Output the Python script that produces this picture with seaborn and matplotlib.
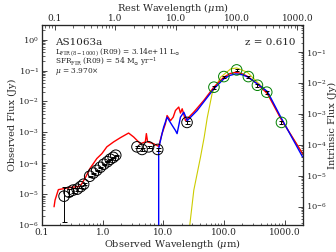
import numpy as np
import seaborn as sns
import matplotlib
matplotlib.use("Agg")
import matplotlib.pyplot as plt
from matplotlib.ticker import FixedLocator, FuncFormatter, LogLocator, NullFormatter

# source info
z = 0.610
mu = 3.970

# observed photometry (black circles), micron / Jy
phot_wave = [0.231, 0.279, 0.325, 0.379, 0.433, 0.485, 0.61, 0.70, 0.796, 0.91,
             1.04, 1.19, 1.33, 1.49, 1.64, 3.67, 4.45, 5.7, 8.06, 24.5]
phot_flux = [8.6e-6, 1.16e-5, 1.35e-5, 1.45e-5, 1.75e-5, 2.1e-5, 3.8e-5, 4.8e-5, 5.9e-5, 7.4e-5,
             9.3e-5, 1.12e-4, 1.35e-4, 1.55e-4, 1.82e-4, 3.4e-4, 2.8e-4, 3.4e-4, 2.8e-4, 2.1e-3]
phot_err_lo = [7.35e-6, 3.0e-6, 2.5e-6, 1.5e-6, 1.5e-6, 1.5e-6, 2e-6, 2e-6, 2e-6, 3e-6,
               4e-6, 4e-6, 5e-6, 5e-6, 6e-6, 3e-5, 3e-5, 3e-5, 3e-5, 2e-4]
phot_err_hi = [8.4e-6, 3.0e-6, 2.5e-6, 1.5e-6, 1.5e-6, 1.5e-6, 2e-6, 2e-6, 2e-6, 3e-6,
               4e-6, 4e-6, 5e-6, 5e-6, 6e-6, 3e-5, 3e-5, 3e-5, 3e-5, 2e-4]

# far-IR photometry (green circles)
fir_wave = [68, 99, 161, 251, 354, 504, 881]
fir_flux = [0.029, 0.064, 0.105, 0.064, 0.0335, 0.020, 2.1e-3]
fir_err = [0.003, 0.005, 0.008, 0.005, 0.003, 0.002, 3e-4]

# full template fit (red)
red_wave = [0.158, 0.164, 0.186, 0.225, 0.29, 0.425, 0.514, 0.621, 0.80, 0.97,
            1.17, 1.51, 1.95, 2.67, 3.23, 4.17, 5.04, 5.24, 5.5, 6.9,
            8.36, 9.5, 10.8, 11.5, 13.1, 14.5, 15.8, 17.9, 19.1, 20.4,
            23.1, 31.6, 46.3, 67.7, 99, 125, 155, 195, 242, 354,
            517, 859, 1963]
red_flux = [3.9e-6, 6.4e-6, 1.4e-5, 1.5e-5, 1.64e-5, 1.8e-5, 3.3e-5, 6.9e-5, 1.42e-4, 2.05e-4,
            3.4e-4, 4.9e-4, 6.7e-4, 9.5e-4, 7.1e-4, 4.3e-4, 4.9e-4, 9.1e-4, 4.9e-4, 4.3e-4,
            3.5e-4, 9.1e-4, 1.9e-3, 3.5e-3, 2.4e-3, 3.1e-3, 5.1e-3, 6.6e-3, 4.2e-3, 5.8e-3,
            2.4e-3, 4.5e-3, 0.0108, 0.029, 0.061, 0.080, 0.088, 0.080, 0.065, 0.037,
            0.0178, 2.8e-3, 2.05e-4]

# IR-only template (blue)
blue_wave = [8.36, 8.36, 9.5, 10.1, 11.5, 13.9, 15.8, 16.8, 19.1, 21.7,
             24.7, 36, 67.8, 99, 125, 155, 195, 242, 354, 517,
             859, 1963]
blue_flux = [1e-7, 3.0e-4, 9.1e-4, 1.48e-3, 3.1e-3, 1.7e-3, 1.15e-3, 9.1e-4, 3.1e-3, 4.5e-3,
             2.4e-3, 5.1e-3, 0.0257, 0.054, 0.070, 0.078, 0.074, 0.063, 0.037, 0.021,
             3.1e-3, 1.6e-4]

# modified blackbody (yellow)
yellow_wave = [25, 27.2, 31.7, 40.9, 47, 52.8, 63.8, 87.5, 128, 161,
               242, 354, 517, 859, 1963]
yellow_flux = [1e-7, 1e-6, 1.35e-5, 1.6e-4, 7e-4, 3e-3, 0.019, 0.061, 0.113, 0.122,
               0.088, 0.042, 0.020, 2.8e-3, 2.05e-4]

sns.set_style("ticks")
plt.rcParams["font.family"] = ["DejaVu Serif"]
plt.rcParams["mathtext.fontset"] = "dejavuserif"

fig = plt.figure(figsize=(3.36, 2.52), dpi=100)
ax = fig.add_axes([0.125, 0.107, 0.777, 0.794])

sns.lineplot(x=yellow_wave, y=yellow_flux, ax=ax, color="#cccc00", lw=0.8,
             sort=False, estimator=None)
sns.lineplot(x=red_wave, y=red_flux, ax=ax, color="red", lw=1.0,
             sort=False, estimator=None)
sns.lineplot(x=blue_wave, y=blue_flux, ax=ax, color="blue", lw=1.0,
             sort=False, estimator=None)

ax.errorbar(phot_wave, phot_flux, yerr=[phot_err_lo, phot_err_hi], fmt="none",
            ecolor="black", elinewidth=0.7, capsize=1.8, capthick=0.7, zorder=4)
ax.errorbar(fir_wave, fir_flux, yerr=fir_err, fmt="none",
            ecolor="black", elinewidth=0.7, capsize=1.5, capthick=0.7, zorder=4)
sns.scatterplot(x=phot_wave, y=phot_flux, ax=ax, facecolor="none",
                edgecolor="black", s=58, linewidth=0.7, zorder=5)
sns.scatterplot(x=fir_wave, y=fir_flux, ax=ax, facecolor="none",
                edgecolor="green", s=58, linewidth=0.7, zorder=5)

ax.set_xscale("log")
ax.set_yscale("log")

fmt1 = FuncFormatter(lambda v, p: "%.1f" % v)

# rest-frame wavelength on top
axt = ax.twiny()
axt.set_xscale("log")
# intrinsic (de-lensed) flux on the right
axr = ax.twinx()
axr.set_yscale("log")

ax.set_autoscale_on(False)
ax.set_xlim(0.1, 2000)
ax.set_ylim(1e-6, 3)
axt.set_xlim(0.1 / (1 + z), 2000 / (1 + z))
axt.set_ylim(1e-6, 3)
axr.set_xlim(0.1, 2000)
axr.set_ylim(1e-6 / mu, 3 / mu)

ax.xaxis.set_major_locator(FixedLocator([0.1, 1, 10, 100, 1000]))
ax.xaxis.set_major_formatter(fmt1)
ax.xaxis.set_minor_formatter(NullFormatter())
ax.yaxis.set_major_locator(LogLocator(base=10, numticks=12))
ax.yaxis.set_minor_locator(LogLocator(base=10, subs=np.arange(2, 10), numticks=12))
ax.yaxis.set_minor_formatter(NullFormatter())
ax.tick_params(which="both", direction="in", top=False, right=False)
ax.tick_params(axis="x", labelsize=6.5, pad=2)
ax.tick_params(axis="y", labelsize=6, pad=2)
ax.tick_params(which="major", length=3.5, width=0.6)
ax.tick_params(which="minor", length=1.8, width=0.5)
ax.set_xlabel(r"Observed Wavelength ($\mu$m)", fontsize=7, labelpad=0)
ax.set_ylabel("Observed Flux (Jy)", fontsize=7, labelpad=1)

axt.xaxis.set_major_locator(FixedLocator([0.1, 1, 10, 100, 1000]))
axt.xaxis.set_major_formatter(fmt1)
axt.xaxis.set_minor_formatter(NullFormatter())
axt.tick_params(which="both", direction="in", labelsize=6.5, pad=1.5)
axt.tick_params(which="major", length=3.5, width=0.6)
axt.tick_params(which="minor", length=1.8, width=0.5)
axt.set_xlabel(r"Rest Wavelength ($\mu$m)", fontsize=7, labelpad=2)

axr.yaxis.set_major_locator(LogLocator(base=10, numticks=12))
axr.yaxis.set_minor_locator(LogLocator(base=10, subs=np.arange(2, 10), numticks=12))
axr.yaxis.set_minor_formatter(NullFormatter())
axr.tick_params(which="both", direction="in", labelsize=6, pad=2)
axr.tick_params(which="major", length=3.5, width=0.6)
axr.tick_params(which="minor", length=1.8, width=0.5)
axr.set_ylabel("Intrinsic Flux (Jy)", fontsize=7, labelpad=1)

for a in (ax, axt, axr):
    for s in a.spines.values():
        s.set_linewidth(0.8)

ax.text(0.05, 0.91, "AS1063a", transform=ax.transAxes, fontsize=7.5, va="center")
ax.text(0.97, 0.91, "z = %.3f" % z, transform=ax.transAxes, fontsize=7.5,
        va="center", ha="right")
ax.text(0.05, 0.864, r"L$_{\rm FIR\,(8-1000)}$ (R09) = 3.14e+11 L$_{\odot}$",
        transform=ax.transAxes, fontsize=5.3, va="center")
ax.text(0.05, 0.816, r"SFR$_{\rm FIR}$ (R09) = 54 M$_{\odot}$ yr$^{-1}$",
        transform=ax.transAxes, fontsize=5.3, va="center")
ax.text(0.05, 0.768, r"$\mu$ = %.3f$\times$" % mu,
        transform=ax.transAxes, fontsize=5.3, va="center")

fig.savefig("out.png", dpi=100)
